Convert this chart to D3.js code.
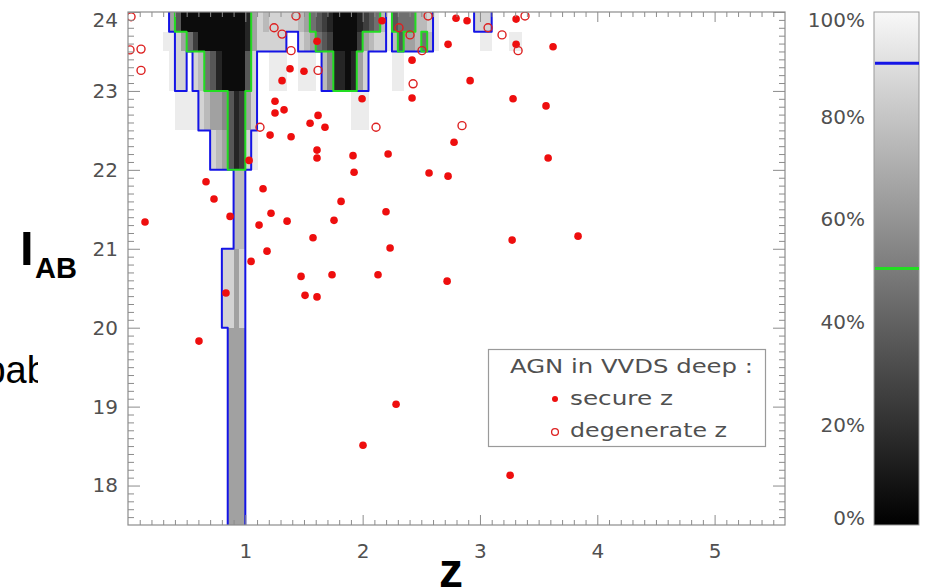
<!DOCTYPE html>
<html><head><meta charset="utf-8">
<script src="https://cdn.jsdelivr.net/npm/d3@7"></script>
<style>body{margin:0;background:#fff}svg{display:block}</style>
</head><body>
<svg id="c" width="927" height="588"></svg>
<script>
// ---------- data ----------
const zDomain = [0, 5.6];
const magDomain = [17.5, 24];
const xTicks = [1, 2, 3, 4, 5];
const yTicks = [18, 19, 20, 21, 22, 23, 24];
const cbTicks = [0, 20, 40, 60, 80, 100];
const cbLabels = ["0%", "20%", "40%", "60%", "80%", "100%"];
const contourLevels = [90, 50];
const contourColors = ["#1414e6", "#22dd22"];
// probability map: z bins of 0.05 from z=0.30, magnitude bins between magEdges
const zBinStart = 0.30, zBinWidth = 0.05;
const magEdges = [24, 23.75, 23.5, 23.0, 22.5, 22.0, 21.0, 20.0, 17.5];
// each char = cumulative-probability decile (0 = most probable, '.' = empty)
const probRows = [
  ".6300000000000168788888764321000012347934447789......888",
  "998642000000001688888..876432000026788973667479.......99...99",
  ".988.87431000038..999..999.75110168....99",
  "..99998766531268................999",
  "........87631289",
  "............77",
  "..........8868",
  "...........666"
];
const secure = [
  [0.145,21.34],[0.665,21.85],[0.733,21.63],[0.870,21.41],[1.032,22.12],[1.151,21.76],
  [1.219,21.45],[1.117,21.30],[1.185,20.97],[1.049,20.84],[0.835,20.44],[1.356,21.35],
  [1.577,21.14],[1.475,20.65],[1.509,20.41],[1.611,20.39],[1.381,23.28],[1.500,23.25],
  [1.313,23.13],[1.253,22.87],[1.253,22.72],[1.330,22.76],[1.552,22.59],[1.620,22.69],
  [1.679,22.54],[1.211,22.44],[1.390,22.42],[1.611,22.25],[1.611,22.15],[1.918,22.18],
  [1.927,21.97],[2.217,22.20],[2.566,21.96],[2.728,21.92],[1.995,22.90],[2.421,23.39],
  [2.421,22.91],[2.165,23.89],[2.796,23.92],[2.890,23.89],[3.308,23.91],[2.728,23.59],
  [3.308,23.59],[3.623,23.56],[2.916,23.13],[3.282,22.90],[3.563,22.81],[2.779,22.35],
  [3.581,22.15],[1.816,21.60],[1.756,21.36],[2.199,21.47],[2.234,21.01],[1.739,20.67],
  [2.131,20.67],[2.720,20.59],[0.605,19.83],[2.285,19.03],[2.003,18.51],[3.257,18.13],
  [3.274,21.11],[3.836,21.16],[1.611,23.63]
];
const degenerate = [
  [0.026,23.94],[0.017,23.52],[0.111,23.53],[0.111,23.26],[1.125,22.54],[1.245,23.80],
  [1.313,23.72],[1.390,23.51],[1.432,23.95],[1.620,23.26],[2.114,22.54],[2.430,23.09],
  [2.310,23.80],[2.404,23.71],[2.506,23.51],[2.558,23.95],[3.384,23.95],[3.069,23.80],
  [3.188,23.71],[3.325,23.51],[2.847,22.56]
];
const legendTitle = "AGN in VVDS deep :";
const legendItems = ["secure z", "degenerate z"];

// ---------- drawing ----------
const svg = d3.select("#c");
const PL = 128, PR = 785, PT = 12, PB = 525;
const x = d3.scaleLinear().domain(zDomain).range([PL, PR]);
const y = d3.scaleLinear().domain(magDomain).range([PB, PT]);
const gray = d3.scaleLinear().domain([0, 100]).range(["#000000", "#f8f8f8"]);
const TXT = "#505050", FRAME = "#8c8c8c";
const LFONT = "'DejaVu Sans', sans-serif";

const grid = probRows.map(s => Array.from(s).map(ch => (ch >= "0" && ch <= "9") ? (+ch) * 10 + 5 : null));

svg.append("defs").append("clipPath").attr("id", "plotclip")
  .append("rect").attr("x", PL).attr("y", PT).attr("width", PR - PL).attr("height", PB - PT);
svg.select("defs").append("clipPath").attr("id", "lblclip")
  .append("rect").attr("x", 0).attr("y", 330).attr("width", 38).attr("height", 80);

const plot = svg.append("g").attr("clip-path", "url(#plotclip)");

// cells
const cells = [];
grid.forEach((row, r) => row.forEach((v, c) => { if (v != null) cells.push({ r, c, v }); }));
plot.append("g").attr("shape-rendering", "crispEdges").selectAll("rect").data(cells).join("rect")
  .attr("x", d => x(zBinStart + d.c * zBinWidth))
  .attr("width", d => x(zBinStart + (d.c + 1) * zBinWidth) - x(zBinStart + d.c * zBinWidth) + 0.5)
  .attr("y", d => y(magEdges[d.r]))
  .attr("height", d => y(magEdges[d.r + 1]) - y(magEdges[d.r]))
  .attr("fill", d => gray(d.v));

// step contours
function contourPath(thr) {
  const inside = (r, c) => r >= 0 && r < grid.length && c >= 0 && grid[r][c] != null && grid[r][c] < thr;
  let d = "";
  grid.forEach((row, r) => row.forEach((v, c) => {
    if (!(v != null && v < thr)) return;
    const x0 = x(zBinStart + c * zBinWidth), x1 = x(zBinStart + (c + 1) * zBinWidth);
    const y0 = y(magEdges[r]), y1 = y(magEdges[r + 1]);
    if (r > 0 && !inside(r - 1, c)) d += `M${x0},${y0}L${x1},${y0}`;
    if (r < grid.length - 1 && !inside(r + 1, c)) d += `M${x0},${y1}L${x1},${y1}`;
    if (!inside(r, c - 1)) d += `M${x0},${y0}L${x0},${y1}`;
    if (!inside(r, c + 1)) d += `M${x1},${y0}L${x1},${y1}`;
  }));
  return d;
}
contourLevels.forEach((lv, i) => {
  plot.append("path").attr("d", contourPath(lv)).attr("fill", "none")
    .attr("stroke", contourColors[i]).attr("stroke-width", 2).attr("stroke-linecap", "round");
});

// points
plot.append("g").selectAll("circle").data(secure).join("circle")
  .attr("cx", d => x(d[0])).attr("cy", d => y(d[1])).attr("r", 3.8).attr("fill", "#ee0e0e");
plot.append("g").selectAll("circle").data(degenerate).join("circle")
  .attr("cx", d => x(d[0])).attr("cy", d => y(d[1])).attr("r", 4).attr("fill", "none")
  .attr("stroke", "#dd2020").attr("stroke-width", 1.4);

// axes (inward ticks on all four sides)
const xMinor = d3.range(1, 56).map(i => i / 10).filter(v => Math.abs(v - Math.round(v)) > 1e-6);
const yMinor = d3.range(176, 240).map(i => i / 10).filter(v => Math.abs(v - Math.round(v)) > 1e-6);
function styleAxis(g) {
  g.select(".domain").remove();
  g.selectAll("line").attr("stroke", FRAME);
  g.selectAll("text").attr("fill", TXT).attr("font-family", LFONT).attr("font-size", 20);
}
svg.append("g").attr("transform", `translate(0,${PB})`)
  .call(d3.axisBottom(x).tickValues(xTicks).tickSize(-10).tickPadding(19).tickFormat(d3.format("d"))).call(styleAxis);
svg.append("g").attr("transform", `translate(0,${PB})`)
  .call(d3.axisBottom(x).tickValues(xMinor).tickSize(-5).tickFormat("")).call(styleAxis);
svg.append("g").attr("transform", `translate(0,${PT})`)
  .call(d3.axisTop(x).tickValues(xTicks).tickSize(-10).tickFormat("")).call(styleAxis);
svg.append("g").attr("transform", `translate(0,${PT})`)
  .call(d3.axisTop(x).tickValues(xMinor).tickSize(-5).tickFormat("")).call(styleAxis);
const yl = svg.append("g").attr("transform", `translate(${PL},0)`)
  .call(d3.axisLeft(y).tickValues(yTicks).tickSize(-12).tickPadding(10).tickFormat(d3.format("d"))).call(styleAxis);
yl.selectAll(".tick").filter(d => d === 24).select("text").attr("dy", "0.72em");
svg.append("g").attr("transform", `translate(${PL},0)`)
  .call(d3.axisLeft(y).tickValues(yMinor).tickSize(-6).tickFormat("")).call(styleAxis);
svg.append("g").attr("transform", `translate(${PR},0)`)
  .call(d3.axisRight(y).tickValues(yTicks).tickSize(-12).tickFormat("")).call(styleAxis);
svg.append("g").attr("transform", `translate(${PR},0)`)
  .call(d3.axisRight(y).tickValues(yMinor).tickSize(-6).tickFormat("")).call(styleAxis);

svg.append("rect").attr("x", PL).attr("y", PT).attr("width", PR - PL).attr("height", PB - PT)
  .attr("fill", "none").attr("stroke", FRAME).attr("stroke-width", 1.2);

// legend
const lg = svg.append("g");
lg.append("rect").attr("x", 488.5).attr("y", 349.5).attr("width", 277).attr("height", 97)
  .attr("fill", "#fff").attr("stroke", "#9a9a9a").attr("stroke-width", 1.2);
lg.append("text").attr("x", 510).attr("y", 373).text(legendTitle)
  .attr("textLength", 243).attr("lengthAdjust", "spacingAndGlyphs");
lg.append("text").attr("x", 570).attr("y", 405).text(legendItems[0])
  .attr("textLength", 103).attr("lengthAdjust", "spacingAndGlyphs");
lg.append("text").attr("x", 570).attr("y", 437).text(legendItems[1])
  .attr("textLength", 157).attr("lengthAdjust", "spacingAndGlyphs");
lg.selectAll("text").attr("fill", TXT).attr("font-family", LFONT).attr("font-size", 20);
lg.append("circle").attr("cx", 555).attr("cy", 399).attr("r", 3).attr("fill", "#ee0e0e");
lg.append("circle").attr("cx", 555).attr("cy", 432).attr("r", 3.4).attr("fill", "none")
  .attr("stroke", "#dd2020").attr("stroke-width", 1.3);

// colorbar
const CBX = 874, CBW = 45;
const cb = d3.scaleLinear().domain([0, 100]).range([PB, PT]);
const grad = svg.select("defs").append("linearGradient").attr("id", "cbgrad")
  .attr("x1", 0).attr("y1", 1).attr("x2", 0).attr("y2", 0);
d3.range(0, 101, 10).forEach(p => grad.append("stop").attr("offset", p / 100).attr("stop-color", gray(p)));
svg.append("rect").attr("x", CBX).attr("y", PT).attr("width", CBW).attr("height", PB - PT)
  .attr("fill", "url(#cbgrad)").attr("stroke", "#999").attr("stroke-width", 1);
contourLevels.forEach((lv, i) => {
  svg.append("line").attr("x1", CBX + 1).attr("x2", CBX + CBW).attr("y1", cb(lv)).attr("y2", cb(lv))
    .attr("stroke", contourColors[i]).attr("stroke-width", 3);
});
svg.append("g").selectAll("text").data(cbTicks).join("text")
  .attr("x", 865).attr("y", d => Math.max(20, Math.min(518, cb(d) + 2)))
  .attr("dy", "0.36em").attr("text-anchor", "end")
  .attr("fill", TXT).attr("font-family", LFONT).attr("font-size", 20)
  .text((d, i) => cbLabels[i]);

// axis titles
const lab = svg.append("g").attr("fill", "#000").attr("font-family", "'Liberation Sans', Arial, sans-serif");
lab.append("text").attr("x", 20).attr("y", 265).attr("font-size", 49).attr("font-weight", "bold").text("I");
lab.append("text").attr("x", 35).attr("y", 278).attr("font-size", 29).attr("font-weight", "bold").text("AB");
lab.append("text").attr("x", 439).attr("y", 587).attr("font-size", 48).attr("font-weight", "bold").text("z");
lab.append("text").attr("x", -70.5).attr("y", 383).attr("font-size", 38).attr("clip-path", "url(#lblclip)").text("probability");
</script>
</body></html>
